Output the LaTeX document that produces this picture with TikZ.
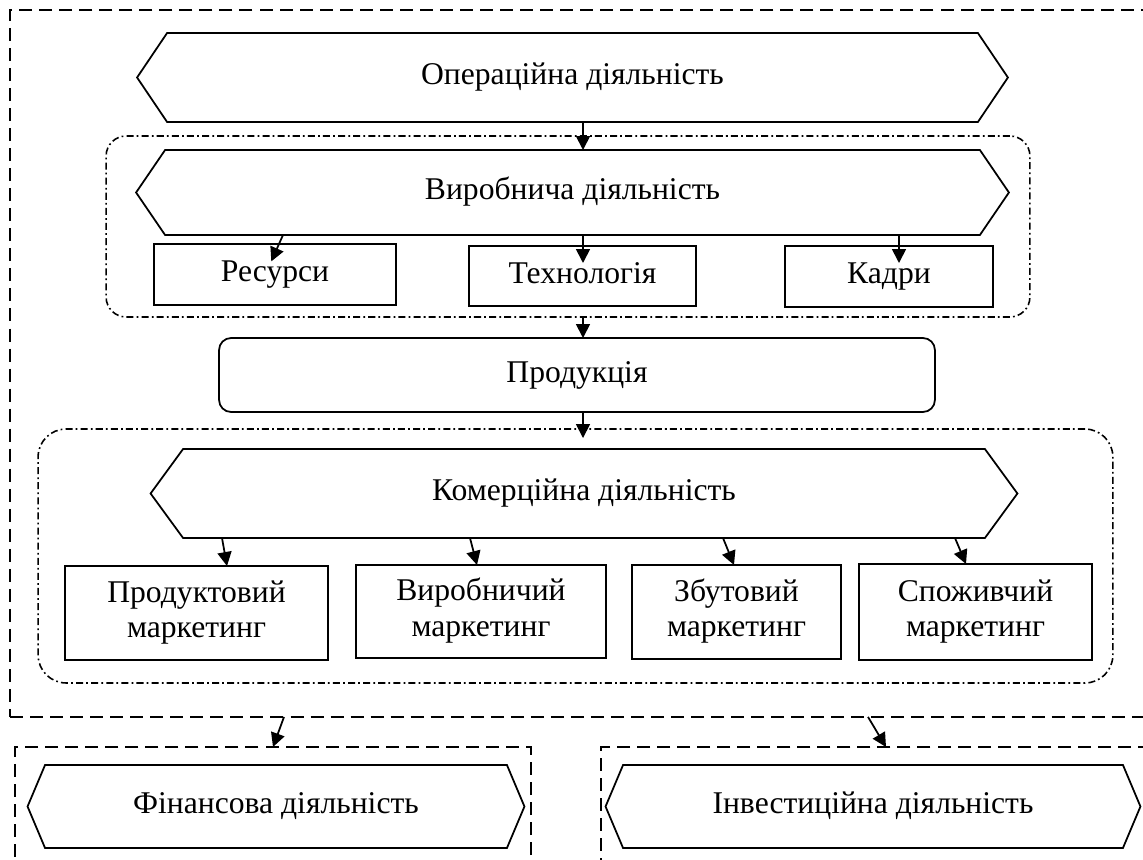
\documentclass[tikz,border=0pt]{standalone}
\usepackage{fontspec}
\setmainfont{Liberation Serif}
\usepackage{tikz}
\usetikzlibrary{arrows.meta}

\begin{document}
\begin{tikzpicture}[x=0.02cm, y=-0.02cm,
        line cap=butt, line join=miter,
        every node/.style={inner sep=0pt, outer sep=0pt,
            font=\fontsize{18}{20}\selectfont, align=center},
        box/.style={draw, line width=1pt},
        roundbox/.style={draw, line width=1pt, rounded corners=0.24cm},
        hexbox/.style={},
        frame/.style={draw, line width=1pt, dash pattern=on 7.4pt off 4pt},
        group/.style={draw, line width=0.9pt, rounded corners=#1,
            dash pattern=on 4pt off 1.8pt on 1pt off 1.8pt},
        arr/.style={line width=1pt, -{Triangle[length=0.28cm,width=0.28cm]}}]
        \useasboundingbox (0,0) rectangle (1143,859);
        \clip (0,0) rectangle (1143,859);

        \def\hexa#1#2{ % outline of a hexagon round a text node
        \draw[line width=1pt] (#1.north west) -- (#1.north east) -- ([xshift=#2]#1.east)
        -- (#1.south east) -- (#1.south west) -- ([xshift=-#2]#1.west) -- cycle;
        }

        % FRAMES
        \node[frame, minimum width=23cm, minimum height=14.14cm] (opframe) at (585,363.5) {};
        \node[frame, minimum width=10.32cm, minimum height=2.66cm] (finframe) at (273,813.5) {};
        \node[frame, minimum width=11.18cm, minimum height=2.66cm] (invframe) at (880.5,813.5) {};
        \node[group=0.4cm, minimum width=18.48cm, minimum height=3.62cm] (vyrgroup) at (568,226.5) {};
        \node[group=0.56cm, minimum width=21.5cm, minimum height=5.08cm] (komgroup) at (575.5,556) {};

        % activities
        \node[hexbox, minimum width=16.22cm, minimum height=1.78cm] (op) at (572.5,77.5) {\strut Операційна діяльність};
        \hexa{op}{0.6cm}
        \node[hexbox, minimum width=16.3cm, minimum height=1.7cm] (vyr) at (572.5,192.5) {\strut Виробнича діяльність};
        \hexa{vyr}{0.58cm}
        \node[hexbox, minimum width=16.04cm, minimum height=1.78cm] (kom) at (584,493.5) {\strut Комерційна діяльність};
        \hexa{kom}{0.65cm}
        \node[hexbox, minimum width=9.24cm, minimum height=1.66cm] (fin) at (276,806.5) {\strut Фінансова діяльність};
        \hexa{fin}{0.35cm}
        \node[hexbox, minimum width=10cm, minimum height=1.66cm] (inv) at (873,806.5) {\strut Інвестиційна діяльність};
        \hexa{inv}{0.35cm}

        % boxes
        \node[box, minimum width=4.84cm, minimum height=1.22cm] (res) at (275,274.5) {\strut Ресурси};
        \node[box, minimum width=4.54cm, minimum height=1.2cm] (tech) at (582.5,276) {\strut Технологія};
        \node[box, minimum width=4.16cm, minimum height=1.22cm] (kad) at (889,276.5) {\strut Кадри};
        \node[roundbox, minimum width=14.32cm, minimum height=1.48cm] (prod) at (577,375) {\strut Продукція};
        \node[box, minimum width=5.26cm, minimum height=1.88cm] (m1) at (196.5,613) {\strut Продуктовий\\\strut маркетинг};
        \node[box, minimum width=5cm, minimum height=1.86cm] (m2) at (481,611.5) {\strut Виробничий\\\strut маркетинг};
        \node[box, minimum width=4.18cm, minimum height=1.88cm] (m3) at (736.5,612) {\strut Збутовий\\\strut маркетинг};
        \node[box, minimum width=4.66cm, minimum height=1.92cm] (m4) at (975.5,612) {\strut Споживчий\\\strut маркетинг};

        % arrows
        \draw[arr] (op.south -| 583,0) -- (vyr.north -| 583,0);
        \draw[arr, shorten >=-0.38cm] (vyr.south -| 283,0) -- (res.north -| 279,0);
        \draw[arr, shorten >=-0.34cm] (vyr.south -| 583,0) -- (tech.north -| 583,0);
        \draw[arr, shorten >=-0.34cm] (vyr.south -| 899,0) -- (kad.north -| 899,0);
        \draw[arr] (vyrgroup.south -| 583,0) -- (prod.north -| 583,0);
        \draw[arr, shorten >=-0.18cm] (prod.south -| 583,0) -- (komgroup.north -| 583,0);
        \draw[arr] (kom.south -| 222,0) -- (m1.north -| 227,0);
        \draw[arr] (kom.south -| 470,0) -- (m2.north -| 477,0);
        \draw[arr] (kom.south -| 723,0) -- (m3.north -| 734,0);
        \draw[arr] (kom.south -| 955,0) -- (m4.north -| 966,0);
        \draw[arr] (opframe.south -| 284,0) -- (finframe.north -| 273,0);
        \draw[arr] (opframe.south -| 868,0) -- (invframe.north -| 886,0);

    \end{tikzpicture}
\end{document}
